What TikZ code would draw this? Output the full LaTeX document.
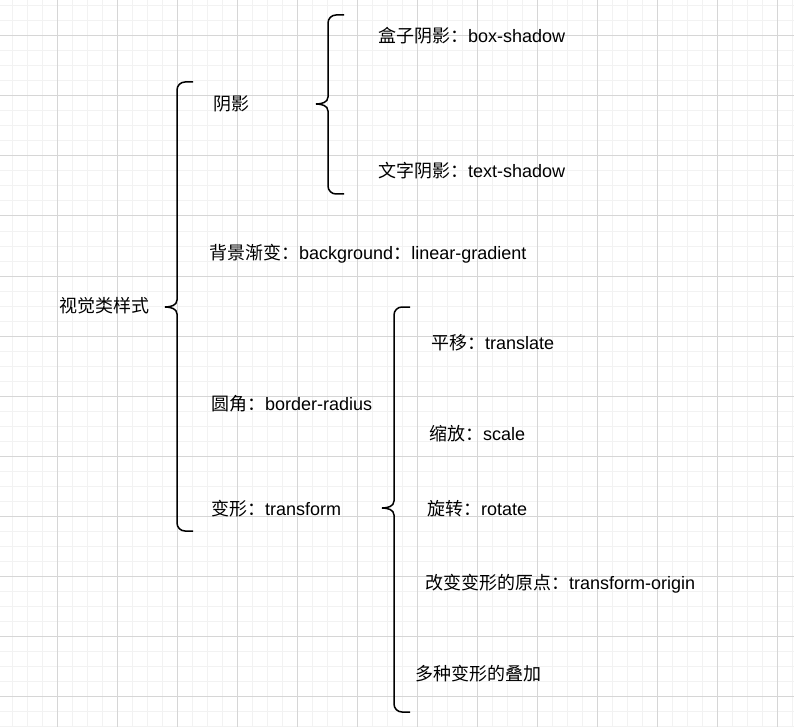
\documentclass[tikz,border=0pt]{standalone}
\usepackage{fontspec}
\setmainfont{Liberation Sans}
\newfontfamily\cjk{Noto Sans CJK SC}
\usepackage{tikz}
\usetikzlibrary{positioning}

% curly brace: x of the stem, top, tip and bottom y
\newcommand{\curly}[4]{%
	\draw[brace] (#1+16,#2) -- (#1+8,#2) to[out=180,in=90] (#1,#2+8)
		-- (#1,#3-7) to[out=-90,in=0] (#1-12,#3)
		to[out=0,in=90] (#1,#3+7)
		-- (#1,#4-8) to[out=-90,in=180] (#1+8,#4) -- (#1+16,#4);}

\begin{document}
\begin{tikzpicture}[
		x=1pt, y=-1pt,
		brace/.style={line width=1.5pt, black},
		minor/.style={line width=1pt, black!5},
		major/.style={line width=1pt, black!16},
		lbl/.style={anchor=west, inner sep=0pt, font=\fontsize{18}{21}\selectfont}]
		\useasboundingbox (0,0) rectangle (794,727);
		\fill[white] (0,0) rectangle (794,727);

		% grid
		\foreach \gx in {12,27,...,792} \draw[minor] (\gx,0) -- (\gx,727);
		\foreach \gy in {6,21,...,726} \draw[minor] (0,\gy) -- (794,\gy);
		\foreach \gx in {57,117,...,777} \draw[major] (\gx,0) -- (\gx,727);
		\foreach \gy in {36,96,...,696} \draw[major] (0,\gy) -- (794,\gy);

		\node[lbl] (root) at (59,306) {\cjk 视觉类样式};

		\node[lbl] (shadow)     at (213,104) {\cjk 阴影};
		\node[lbl] (boxshadow)  at (378,36)  {{\cjk 盒子阴影：}box-shadow};
		\node[lbl] (textshadow) at (378,171) {{\cjk 文字阴影：}text-shadow};
		\node[lbl] (gradient)   at (209,254) {{\cjk 背景渐变：}background{\cjk ：}linear-gradient};
		\node[lbl] (radius)     at (211,404) {{\cjk 圆角：}border-radius};
		\node[lbl] (transform)  at (211,509) {{\cjk 变形：}transform};

		\node[lbl] (translate) at (431,343) {{\cjk 平移：}translate};
		\node[lbl] (scale)     at (429,434) {{\cjk 缩放：}scale};
		\node[lbl] (rotate)    at (427,509) {{\cjk 旋转：}rotate};
		\node[lbl] (origin)    at (425,584) {{\cjk 改变变形的原点：}transform-origin};
		\node[lbl] (multi)     at (415,674) {\cjk 多种变形的叠加};

		\curly{177}{82}{307}{531}
		\curly{328}{15}{104}{194}
		\curly{394}{307}{508}{712}
\end{tikzpicture}
\end{document}
